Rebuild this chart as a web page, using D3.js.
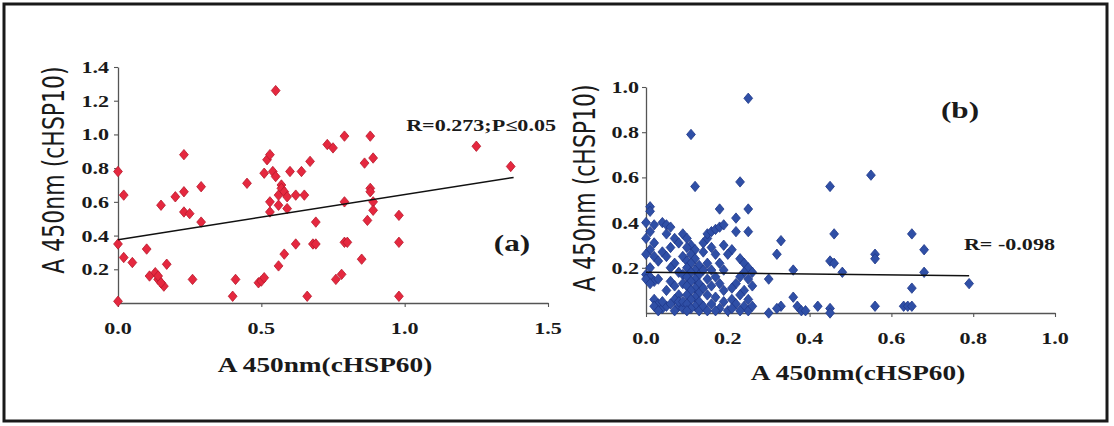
<!DOCTYPE html>
<html>
<head>
<meta charset="utf-8">
<script src="https://cdn.jsdelivr.net/npm/d3@7"></script>
<style>
    body { margin: 0; background: #fff; }
    svg { display: block; }
</style>
</head>
<body>
<div class="js-chart"></div>
<script>
'use strict';

// panel (a): cHSP60 vs cHSP10, red
var aX = [0, 0.02, 0, 0.02, 0.05, 0, 0.10, 0.11, 0.13, 0.14, 0.16, 0.14, 0.15, 0.15, 0.17, 0.20,
    0.23, 0.23, 0.23, 0.25, 0.26, 0.29, 0.29, 0.40, 0.41, 0.45, 0.49, 0.50, 0.51, 0.51, 0.52, 0.53,
    0.53, 0.53, 0.54, 0.55, 0.55, 0.56, 0.56, 0.57, 0.56, 0.57, 0.58, 0.58, 0.59, 0.60, 0.59, 0.62,
    0.62, 0.64, 0.65, 0.66, 0.67, 0.68, 0.69, 0.69, 0.73, 0.75, 0.79, 0.88, 0.86, 0.89, 0.88, 0.88,
    0.79, 0.89, 0.89, 0.87, 0.98, 0.98, 0.79, 0.80, 0.85, 0.76, 0.78, 0.98, 1.25, 1.37];
var aY = [0.78, 0.64, 0.35, 0.27, 0.24, 0.01, 0.32, 0.16, 0.18, 0.14, 0.10, 0.16, 0.12, 0.58, 0.23, 0.63,
    0.88, 0.66, 0.54, 0.53, 0.14, 0.69, 0.48, 0.04, 0.14, 0.71, 0.12, 0.13, 0.15, 0.77, 0.85, 0.88,
    0.54, 0.60, 0.78, 0.75, 1.26, 0.58, 0.22, 0.70, 0.64, 0.68, 0.66, 0.29, 0.56, 0.78, 0.63, 0.35,
    0.64, 0.78, 0.64, 0.04, 0.84, 0.35, 0.35, 0.48, 0.94, 0.92, 0.99, 0.99, 0.83, 0.86, 0.68, 0.66,
    0.60, 0.60, 0.55, 0.49, 0.52, 0.36, 0.36, 0.36, 0.26, 0.14, 0.17, 0.04, 0.93, 0.81];

// panel (b): cHSP60 vs cHSP10, blue
var bX = [
    // left edge column
    0.01, 0.01, 0.00, 0.02, 0.01, 0.00, 0.02, 0.01, 0.00, 0.02, 0.03, 0.01, 0.00, 0.01, 0.00, 0.02,
    0.01, 0.03, 0.02, 0.03, 0.02, 0.04, 0.03, 0.05, 0.04,
    // 0.04 - 0.08
    0.04, 0.05, 0.06, 0.05, 0.07, 0.08, 0.06, 0.04, 0.05, 0.07, 0.06, 0.08, 0.06, 0.07, 0.05, 0.08,
    0.07, 0.06, 0.08, 0.07, 0.09, 0.08,
    // dense column around 0.1
    0.09, 0.10, 0.11, 0.10, 0.12, 0.11, 0.09, 0.12, 0.10, 0.11, 0.13, 0.10, 0.12, 0.11, 0.09, 0.13,
    0.10, 0.12, 0.11, 0.09, 0.13, 0.10, 0.12, 0.11, 0.13, 0.10, 0.12, 0.11, 0.09, 0.13, 0.10, 0.12,
    0.11, 0.13, 0.10, 0.14, 0.14, 0.14, 0.14, 0.11, 0.12,
    // 0.14 - 0.20
    0.14, 0.15, 0.15, 0.16, 0.17, 0.18, 0.19, 0.16, 0.17, 0.15, 0.18, 0.16, 0.19, 0.17, 0.15, 0.18,
    0.16, 0.19, 0.15, 0.17, 0.19, 0.16, 0.18, 0.15, 0.20, 0.17, 0.18, 0.19,
    // 0.20 - 0.26
    0.22, 0.22, 0.23, 0.25, 0.25, 0.25, 0.21, 0.20, 0.23, 0.24, 0.25, 0.24, 0.23, 0.25, 0.22, 0.21,
    0.24, 0.23, 0.21, 0.25, 0.22, 0.24, 0.21, 0.25, 0.23, 0.26, 0.26, 0.26,
    // 0.27 - 0.50
    0.30, 0.30, 0.32, 0.33, 0.33, 0.32, 0.36, 0.36, 0.37, 0.38, 0.39, 0.42, 0.45, 0.46, 0.45, 0.46,
    0.45, 0.45, 0.48,
    // right side
    0.55, 0.56, 0.56, 0.56, 0.63, 0.64, 0.65, 0.65, 0.65, 0.68, 0.68, 0.79];
var bY = [
    0.47, 0.45, 0.40, 0.39, 0.36, 0.33, 0.31, 0.28, 0.26, 0.25, 0.23, 0.20, 0.17, 0.16, 0.15, 0.14,
    0.13, 0.15, 0.06, 0.04, 0.03, 0.02, 0.01, 0.03, 0.05,
    0.40, 0.39, 0.38, 0.35, 0.33, 0.31, 0.29, 0.27, 0.25, 0.22, 0.20, 0.18, 0.14, 0.12, 0.10, 0.08,
    0.06, 0.04, 0.03, 0.01, 0.02, 0.05,
    0.35, 0.33, 0.30, 0.29, 0.28, 0.26, 0.25, 0.24, 0.23, 0.22, 0.21, 0.20, 0.19, 0.18, 0.17, 0.17,
    0.16, 0.15, 0.14, 0.13, 0.13, 0.12, 0.11, 0.10, 0.09, 0.08, 0.07, 0.06, 0.05, 0.05, 0.04, 0.03,
    0.02, 0.01, 0.01, 0.03, 0.11, 0.19, 0.27, 0.79, 0.56,
    0.31, 0.33, 0.35, 0.36, 0.37, 0.38, 0.39, 0.29, 0.26, 0.22, 0.22, 0.19, 0.19, 0.16, 0.15, 0.13,
    0.12, 0.10, 0.08, 0.07, 0.05, 0.04, 0.02, 0.01, 0.01, 0.01, 0.46, 0.30,
    0.42, 0.36, 0.58, 0.95, 0.46, 0.36, 0.28, 0.26, 0.24, 0.22, 0.20, 0.18, 0.16, 0.15, 0.13, 0.11,
    0.10, 0.08, 0.06, 0.06, 0.04, 0.03, 0.02, 0.01, 0.01, 0.12, 0.18, 0.03,
    0.15, 0.00, 0.26, 0.32, 0.03, 0.02, 0.19, 0.07, 0.03, 0.01, 0.01, 0.03, 0.56, 0.35, 0.23, 0.22,
    0.02, 0.00, 0.18,
    0.61, 0.26, 0.24, 0.03, 0.03, 0.03, 0.03, 0.11, 0.35, 0.28, 0.18, 0.13];

// trend lines [x, y]
var trendA = [[0, 0.375], [1.38, 0.745]];
var trendB = [[0, 0.18], [0.79, 0.165]];

// tick labels
var aXTicks = [0, 0.5, 1.0, 1.5];
var aYTicks = [0.2, 0.4, 0.6, 0.8, 1.0, 1.2, 1.4];
var bXTicks = [0, 0.2, 0.4, 0.6, 0.8, 1.0];
var bYTicks = [0.2, 0.4, 0.6, 0.8, 1.0];

var W = 1114, H = 426;
var STRETCH = 1.3;   //scan is wider than tall, texts look stretched
var SERIF = '"Liberation Serif", "Times New Roman", serif';

var svg = d3.select('.js-chart').append('svg')
    .attr('width', W)
    .attr('height', H);

//outer frame
svg.append('rect')
    .attr('x', 4).attr('y', 4)
    .attr('width', 1103).attr('height', 417)
    .style('fill', '#fff')
    .style('stroke', '#1a1a1a')
    .style('stroke-width', 3);

//diamond path like excel markers
function diamond(x, y) {
    var w = 4.4, h = 5.2;
    return 'M ' + x + ' ' + (y - h) +
        ' L ' + (x + w) + ' ' + y +
        ' L ' + x + ' ' + (y + h) +
        ' L ' + (x - w) + ' ' + y + ' Z';
}

//stretched horizontal text
function label(g, txt, x, y, size, anchor) {
    return g.append('text')
        .attr('transform', 'translate(' + x + ',' + y + ') scale(' + STRETCH + ',1)')
        .attr('text-anchor', anchor || 'middle')
        .style('font-family', SERIF)
        .style('font-weight', 'bold')
        .style('font-size', size + 'px')
        .style('fill', '#1a1a1a')
        .text(txt);
}

function drawPanel(cfg) {
    var g = svg.append('g');
    var x = d3.scaleLinear().domain(cfg.xDomain).range(cfg.xRange);
    var y = d3.scaleLinear().domain(cfg.yDomain).range(cfg.yRange);

    //axes
    var xAxis = g.append('g')
        .attr('transform', 'translate(0,' + cfg.yRange[0] + ')')
        .call(d3.axisBottom(x).tickValues(cfg.xTicks).tickSize(4).tickSizeOuter(0)
            .tickFormat(d3.format('.1f')));
    var yAxis = g.append('g')
        .attr('transform', 'translate(' + cfg.xRange[0] + ',0)')
        .call(d3.axisLeft(y).tickValues(cfg.yTicks).tickSize(4).tickSizeOuter(0)
            .tickFormat(d3.format('.1f')));

    [xAxis, yAxis].forEach(function (ax) {
        ax.select('.domain').style('stroke', '#555').style('stroke-width', 1.3);
        ax.selectAll('line').style('stroke', '#555').style('stroke-width', 1.1);
        ax.selectAll('text').remove();
    });

    //tick labels drawn by hand to keep the wide look
    cfg.xTicks.forEach(function (t) {
        label(g, d3.format('.1f')(t), x(t), cfg.yRange[0] + cfg.xLabelDy, 17, 'middle');
    });
    cfg.yTicks.forEach(function (t) {
        label(g, d3.format('.1f')(t), cfg.xRange[0] - cfg.yLabelDx, y(t) + 6, 17, 'end');
    });

    //points
    g.selectAll('.js-pt')
        .data(d3.zip(cfg.xs, cfg.ys))
        .enter()
        .append('path')
        .attr('class', 'js-pt')
        .attr('d', function (d) { return diamond(x(d[0]), y(d[1])); })
        .style('fill', cfg.color)
        .style('stroke', cfg.stroke)
        .style('stroke-width', 0.8);

    //trend line
    g.append('path')
        .attr('d', d3.line().x(function (d) { return x(d[0]); }).y(function (d) { return y(d[1]); })(cfg.trend))
        .style('fill', 'none')
        .style('stroke', '#111')
        .style('stroke-width', 1.5);

    //axis titles
    label(g, 'A 450nm(cHSP60)', cfg.xTitle[0], cfg.xTitle[1], 21, 'middle');
    g.append('text')
        .attr('transform', 'translate(' + cfg.yTitle[0] + ',' + cfg.yTitle[1] + ') scale(1.35,1) rotate(-90)')
        .attr('text-anchor', 'middle')
        .style('font-family', '"DejaVu Sans", sans-serif')
        .style('font-size', '22px')
        .style('fill', '#1a1a1a')
        .text('A 450nm (cHSP10)');

    //annotations
    label(g, cfg.rText, cfg.rPos[0], cfg.rPos[1], 17, 'end');
    label(g, cfg.tag, cfg.tagPos[0], cfg.tagPos[1], 24, 'middle');
}

drawPanel({
    xs: aX, ys: aY, trend: trendA,
    xDomain: [0, 1.5], xRange: [118, 548],
    yDomain: [0, 1.4], yRange: [303, 67],
    xLabelDy: 31, yLabelDx: 9,
    xTicks: aXTicks, yTicks: aYTicks,
    color: '#e5283f', stroke: '#b8192c',
    xTitle: [325, 372], yTitle: [64, 170],
    rText: 'R=0.273;P\u22640.05', rPos: [556, 131],
    tag: '(a)', tagPos: [512, 251]
});

drawPanel({
    xs: bX, ys: bY, trend: trendB,
    xDomain: [0, 1.0], xRange: [646, 1055],
    yDomain: [0, 1.0], yRange: [313, 87],
    xLabelDy: 31, yLabelDx: 7,
    xTicks: bXTicks, yTicks: bYTicks,
    color: '#2f4fa6', stroke: '#20398a',
    xTitle: [858, 380], yTitle: [595, 188],
    rText: 'R= -0.098', rPos: [1055, 250],
    tag: '(b)', tagPos: [960, 118]
});
</script>
</body>
</html>
